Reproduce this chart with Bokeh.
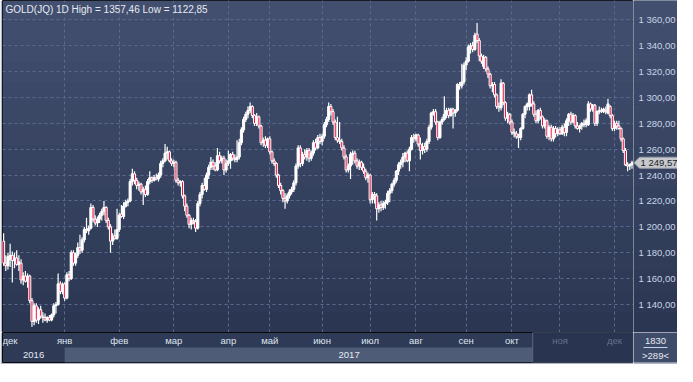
import numpy as np
from bokeh.plotting import figure
from bokeh.models import (Range1d, FixedTicker, Label, BoxAnnotation, ColumnDataSource, Grid)
from bokeh.layouts import column, row
from bokeh.embed import file_html
from bokeh.resources import INLINE
from bokeh.core.properties import value

# ---------------- data (daily OHLC) ----------------
opens = [1189,1172,1170,1175,1178,1174,1176,1171,1172,1159,1162,1158,1162,1143,1127,1139,1128,1136,1131,1130,
         1128,1130,1128,1132,1139,1140,1156,1150,1156,1145,1163,1160,1180,1172,1178,1184,1182,1190,1198,1197,
         1199,1215,1206,1203,1206,1209,1212,1215,1205,1200,1189,1193,1191,1198,1210,1208,1216,1219,1220,1235,
         1241,1236,1232,1233,1227,1229,1225,1235,1238,1236,1238,1237,1240,1249,1251,1257,1258,1251,1249,1250,
         1236,1234,1235,1224,1216,1209,1202,1205,1204,1199,1218,1225,1232,1229,1240,1246,1250,1247,1244,1255,
         1251,1253,1244,1249,1251,1256,1253,1252,1254,1265,1275,1283,1287,1290,1293,1286,1280,1285,1278,1265,
         1267,1263,1268,1258,1251,1249,1240,1232,1228,1222,1220,1224,1227,1229,1234,1247,1261,1249,1256,1254,
         1259,1253,1257,1265,1261,1269,1266,1270,1279,1283,1293,1289,1281,1269,1267,1266,1261,1254,1244,1247,
         1256,1257,1251,1247,1250,1246,1243,1238,1240,1221,1225,1224,1214,1217,1215,1218,1219,1226,1228,1233,
         1236,1243,1248,1250,1254,1257,1251,1260,1269,1268,1271,1264,1259,1262,1260,1266,1277,1288,1289,1281,
         1269,1281,1283,1287,1290,1286,1291,1288,1290,1310,1309,1312,1325,1328,1339,1340,1337,1349,1344,1332,
         1324,1331,1322,1318,1309,1310,1302,1293,1292,1311,1296,1284,1287,1281,1273,1272,1270,1269,1276,1287,
         1293,1293,1302,1295,1287,1282,1290,1285,1278,1282,1270,1277,1268,1276,1272,1275,1272,1277,1273,1282,
         1287,1281,1286,1278,1276,1278,1280,1279,1279,1295,1291,1294,1280,1289,1290,1289,1290,1288,1293,1286,
         1276,1280,1278,1276,1268,1259,1248,1247,1248]
highs = [1195,1178,1180,1187,1181,1180,1182,1178,1175,1165,1166,1164,1163,1145,1141,1141,1138,1139,1134,1133,
         1131,1132,1133,1141,1142,1164,1158,1157,1157,1165,1166,1182,1182,1180,1188,1194,1192,1200,1207,1201,
         1218,1217,1209,1208,1211,1214,1220,1216,1207,1202,1195,1198,1214,1211,1217,1219,1221,1222,1237,1245,
         1243,1238,1235,1234,1231,1232,1237,1243,1239,1240,1241,1242,1251,1253,1264,1262,1259,1253,1252,1251,
         1238,1236,1236,1225,1218,1210,1207,1207,1206,1220,1227,1234,1238,1242,1248,1254,1252,1250,1261,1258,
         1255,1255,1252,1259,1257,1258,1256,1267,1268,1277,1285,1289,1293,1296,1294,1287,1288,1286,1279,1269,
         1270,1269,1270,1259,1253,1250,1241,1234,1229,1226,1226,1229,1231,1236,1249,1263,1263,1258,1260,1261,
         1261,1259,1267,1268,1271,1272,1272,1281,1285,1296,1295,1291,1283,1285,1281,1268,1263,1256,1249,1258,
         1259,1259,1253,1252,1251,1249,1245,1242,1241,1227,1227,1226,1219,1220,1220,1221,1228,1230,1234,1238,
         1244,1250,1252,1257,1258,1259,1262,1271,1272,1272,1272,1269,1265,1265,1268,1279,1289,1291,1291,1282,
         1282,1285,1301,1292,1292,1292,1292,1291,1311,1312,1326,1327,1331,1341,1342,1343,1350,1357.46,1346,1334,
         1333,1332,1324,1319,1312,1312,1303,1296,1314,1312,1297,1289,1288,1283,1276,1274,1272,1277,1288,1294,
         1296,1303,1306,1297,1290,1291,1292,1286,1284,1283,1279,1279,1278,1278,1277,1277,1279,1280,1284,1288,
         1289,1288,1287,1281,1279,1281,1283,1284,1297,1296,1295,1295,1290,1293,1292,1292,1293,1299,1294,1287,
         1282,1282,1282,1277,1269,1261,1250,1249,1251]
lows = [1170,1166,1167,1169,1157,1168,1170,1166,1156,1155,1157,1153,1141,1122.85,1124,1126,1125,1129,1126,1127,
        1126,1127,1127,1130,1133,1139,1148,1148,1143,1144,1158,1159,1170,1170,1176,1179,1180,1188,1195,1194,
        1198,1204,1201,1200,1203,1205,1209,1203,1198,1180,1186,1190,1190,1196,1207,1206,1215,1216,1219,1232,
        1233,1229,1228,1225,1217,1223,1224,1233,1234,1235,1236,1235,1238,1246,1250,1252,1250,1247,1246,1234,
        1232,1231,1222,1212,1207,1199,1198,1202,1196,1198,1216,1222,1228,1227,1237,1244,1244,1243,1243,1249,
        1249,1240,1242,1247,1245,1251,1250,1250,1252,1263,1273,1281,1284,1288,1284,1278,1278,1276,1263,1262,
        1261,1261,1256,1249,1247,1238,1230,1225,1219,1214,1218,1222,1225,1227,1232,1245,1246,1247,1252,1251,
        1250,1251,1255,1259,1260,1264,1263,1268,1277,1281,1286,1279,1267,1265,1264,1259,1252,1242,1242,1237,
        1248,1249,1245,1244,1244,1241,1236,1234,1218,1218,1218,1205,1211,1212,1213,1214,1217,1219,1226,1231,
        1234,1240,1245,1246,1250,1250,1243,1259,1265,1266,1262,1252,1256,1257,1258,1264,1275,1286,1279,1267,
        1268,1279,1282,1284,1284,1285,1276,1285,1289,1306,1307,1310,1321,1327,1334,1335,1336,1342,1328,1326,
        1322,1320,1315,1307,1304,1300,1291,1289,1290,1294,1282,1280,1279,1271,1269,1268,1261,1267,1275,1284,
        1290,1290,1293,1285,1280,1280,1283,1276,1276,1268,1267,1266,1266,1269,1270,1271,1271,1270,1270,1278,
        1279,1280,1276,1275,1273,1275,1277,1277,1278,1289,1289,1278,1278,1287,1288,1288,1287,1287,1284,1274,
        1274,1275,1275,1266,1257,1247,1243,1244,1245]
closes = [1172,1170,1177,1178,1174,1176,1171,1173,1159,1162,1158,1162,1143,1127,1139,1128,1136,1131,1130,1128,
          1130,1128,1132,1139,1140,1156,1150,1155,1145,1163,1160,1180,1172,1178,1184,1182,1190,1198,1197,1199,
          1215,1206,1203,1206,1209,1212,1215,1205,1200,1189,1193,1191,1198,1209,1208,1216,1219,1220,1235,1241,
          1236,1232,1233,1227,1229,1225,1235,1238,1236,1238,1237,1240,1249,1251,1257,1258,1251,1249,1250,1236,
          1234,1235,1224,1216,1209,1202,1205,1204,1199,1218,1225,1232,1229,1240,1246,1250,1247,1244,1255,1251,
          1253,1244,1249,1251,1256,1253,1252,1254,1265,1275,1283,1287,1290,1293,1286,1280,1285,1278,1265,1267,
          1263,1268,1258,1251,1249,1240,1232,1228,1222,1220,1224,1227,1229,1234,1247,1261,1249,1256,1254,1259,
          1253,1257,1265,1261,1269,1266,1270,1279,1283,1293,1289,1281,1269,1267,1266,1261,1254,1244,1247,1256,
          1257,1251,1247,1250,1246,1243,1238,1240,1221,1225,1224,1214,1217,1215,1218,1219,1226,1228,1233,1236,
          1243,1248,1250,1254,1257,1251,1260,1269,1268,1271,1264,1259,1262,1260,1266,1277,1288,1289,1281,1269,
          1281,1283,1287,1290,1286,1291,1288,1290,1310,1309,1312,1325,1328,1339,1340,1337,1348,1344,1332,1328,
          1331,1322,1318,1309,1310,1302,1293,1292,1311,1296,1284,1287,1281,1273,1272,1270,1269,1276,1287,1293,
          1295,1302,1295,1287,1282,1290,1285,1278,1282,1270,1277,1268,1276,1272,1275,1272,1277,1273,1282,1287,
          1281,1286,1278,1276,1278,1280,1279,1282,1295,1291,1294,1280,1289,1290,1289,1291,1289,1295,1286,1276,
          1280,1278,1276,1268,1259,1248,1247,1248,1249.57]

price_ticks = [1140, 1160, 1180, 1200, 1220, 1240, 1260, 1280, 1300, 1320, 1340, 1360]
price_labels = ["1 140,00", "1 160,00", "1 180,00", "1 200,00", "1 220,00", "1 240,00",
                "1 260,00", "1 280,00", "1 300,00", "1 320,00", "1 340,00", "1 360,00"]
month_names = ["дек", "янв", "фев", "мар", "апр", "май", "июн", "июл", "авг", "сен", "окт", "ноя", "дек"]
month_starts = [0, 28, 53, 78, 103, 122, 146, 168, 189, 212, 233, 255, 280]
year_names = ["2016", "2017"]
year_starts = [-0.5, 28]
instrument = "GOLD(JQ) 1D"
corner_top = "1830"

FONT = "Liberation Sans"
FS = "9.5px"

opens = np.array(opens, float); highs = np.array(highs, float)
lows = np.array(lows, float); closes = np.array(closes, float)
N = len(closes)
idx = np.arange(N)

x_lo, x_hi = -0.5, N - 0.3
y_lo, y_hi = 1118.4, 1374.9
overview_start = 242.5
FW, FH, AXW, SH = 631, 332, 44, 30


def fmt(v):
    return f"{v:,.2f}".replace(",", " ").replace(".", ",")


def bare(fig):
    fig.grid.visible = False
    fig.toolbar_location = None
    return fig

# ---------------- main chart ----------------
p = bare(figure(frame_width=FW, frame_height=FH, x_range=Range1d(x_lo, x_hi), y_range=Range1d(y_lo, y_hi),
                output_backend="svg", toolbar_location=None, x_axis_location=None, y_axis_location=None,
                min_border_left=2, min_border_top=0, min_border_bottom=0, min_border_right=0))
p.background_fill_color = "#35425f"
p.border_fill_color = "#aeb6c6"
p.outline_line_color = "#0a0a0a"

top_c = np.array([0x43, 0x50, 0x70]); bot_c = np.array([0x2b, 0x37, 0x52])
nb = 16
edges = np.linspace(y_lo, y_hi, nb + 1)
band_cols = []
for k in range(nb):
    t = (k + 0.5) / nb
    c = (bot_c * (1 - t) + top_c * t).astype(int)
    band_cols.append("#%02x%02x%02x" % tuple(c))
    p.add_layout(BoxAnnotation(bottom=edges[k], top=edges[k + 1], fill_color=band_cols[-1],
                               fill_alpha=1, line_alpha=0, level="image"))

gcol = "#5b6b90"
p.add_layout(Grid(dimension=1, ticker=FixedTicker(ticks=price_ticks), grid_line_color=gcol,
                  grid_line_dash="3 3", grid_line_width=1))
p.add_layout(Grid(dimension=0, ticker=FixedTicker(ticks=month_starts[1:]), grid_line_color=gcol,
                  grid_line_dash="3 3", grid_line_width=1))

body_top = np.maximum(opens, closes)
body_bot = np.minimum(opens, closes)
up = closes >= opens
src = ColumnDataSource(dict(x=idx, h=highs, l=lows, top=body_top, bot=body_bot,
                            fill=np.where(up, "#ffffff", "#ee1240")))
p.segment(x0="x", y0="h", x1="x", y1="l", source=src, line_color="white", line_width=1.2)
p.vbar(x="x", width=0.95, top="top", bottom="bot", source=src, fill_color="fill",
       line_color="white", line_width=1)

title = f"{instrument} High = {highs.max():.2f} Low = {lows.min():.2f}".replace(".", ",")
p.add_layout(Label(x=x_lo, y=y_hi, x_offset=3, y_offset=-3, text=title, text_baseline="top",
                   text_color="#e6eaf2", text_font=FONT, text_font_size="10px"))

# ---------------- right price scale ----------------
r = bare(figure(frame_width=AXW, frame_height=FH, x_range=Range1d(0, AXW), y_range=p.y_range,
                output_backend="svg", toolbar_location=None, x_axis_location=None, y_axis_location=None,
                min_border_left=0, min_border_top=0, min_border_bottom=0, min_border_right=0))
r.background_fill_color = "#35425f"
r.border_fill_color = "#35425f"
r.outline_line_color = None
for k in range(nb):
    r.add_layout(BoxAnnotation(bottom=edges[k], top=edges[k + 1], fill_color=band_cols[k],
                               fill_alpha=1, line_alpha=0, level="image"))
r.text(x=[5] * len(price_ticks), y=price_ticks, text=price_labels, text_color="#c9d4e8",
       text_align="left", text_baseline="middle", text_font=value(FONT), text_font_size=value(FS))
half = 5.5 * (y_hi - y_lo) / FH
last = closes[-1]
r.patch(x=[0.5, 6, AXW, AXW, 6], y=[last, last + half, last + half, last - half, last - half],
        fill_color="#c6c9ce", line_color="#9aa0aa", line_width=1)
r.text(x=[7], y=[last], text=[fmt(last)], text_color="#1c1c1c", text_align="left",
       text_baseline="middle", text_font=value(FONT), text_font_size=value(FS))

# ---------------- bottom time strip ----------------
q = bare(figure(frame_width=FW, frame_height=SH, x_range=p.x_range, y_range=Range1d(0, 2),
                output_backend="svg", toolbar_location=None, x_axis_location=None, y_axis_location=None,
                min_border_left=2, min_border_top=0, min_border_bottom=2, min_border_right=0))
q.background_fill_color = "#2e3a56"
q.border_fill_color = "#aeb6c6"
q.outline_line_color = "#0a0a0a"

q.add_layout(BoxAnnotation(left=year_starts[1], right=overview_start, bottom=0, top=1,
                           fill_color="#4f5c77", fill_alpha=1, line_alpha=0, level="image"))
q.add_layout(BoxAnnotation(left=overview_start, right=x_hi, bottom=0, top=2,
                           fill_color="#283450", fill_alpha=1, line_color="#5a6680", line_width=1,
                           line_alpha=1, level="image"))

mcol = ["#dfe5ef" if m < overview_start else "#66728c" for m in month_starts]
malign = ["left"] + ["center"] * (len(month_starts) - 1)
mx = [x_lo] + month_starts[1:]
q.text(x=mx, y=[1.45] * len(month_starts), text=month_names, text_color=mcol,
       text_align=malign, text_baseline="middle", text_font=value(FONT), text_font_size=value(FS))

year_bounds = year_starts + [x_hi]
year_centers = [(year_bounds[i] + year_bounds[i + 1]) / 2 for i in range(len(year_names))]
q.text(x=year_centers, y=[0.5] * len(year_names), text=year_names, text_color="#e6eaf2",
       text_align="center", text_baseline="middle", text_font=value(FONT), text_font_size=value(FS))

# ---------------- corner box ----------------
cbox = bare(figure(frame_width=AXW, frame_height=SH, x_range=Range1d(0, AXW), y_range=Range1d(0, 2),
                   output_backend="svg", toolbar_location=None, x_axis_location=None, y_axis_location=None,
                   min_border_left=0, min_border_top=0, min_border_bottom=2, min_border_right=0))
cbox.background_fill_color = "#3e4b69"
cbox.border_fill_color = "#aeb6c6"
cbox.outline_line_color = None
cbox.text(x=[AXW / 2, AXW / 2], y=[1.45, 0.5], text=[corner_top, f">{N}<"], text_color="#e6eaf2",
          text_align="center", text_baseline="middle", text_font=value(FONT), text_font_size=value(FS))
cbox.segment(x0=[AXW / 2 - 12], y0=[1.0], x1=[AXW / 2 + 12], y1=[1.0], line_color="#c9d4e8", line_width=1)

layout = column(row(p, r, spacing=0), row(q, cbox, spacing=0), spacing=0)
open("out.html", "w").write(file_html(layout, INLINE))
